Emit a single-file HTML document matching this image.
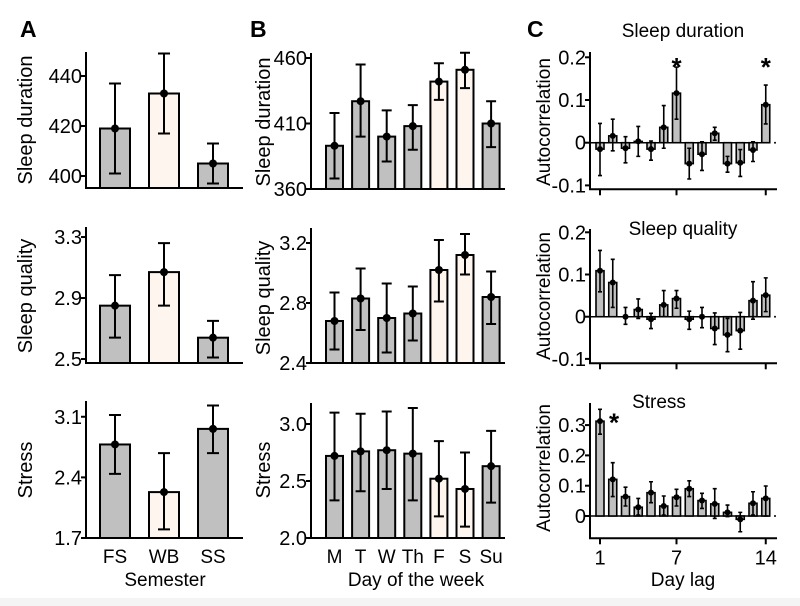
<!DOCTYPE html>
<html><head><meta charset="utf-8"><style>
html,body{margin:0;padding:0;background:#fff}
svg{display:block;font-family:"Liberation Sans",Arial,sans-serif}
</style></head><body>
<svg id="c" width="800" height="606" viewBox="0 0 800 606" xmlns="http://www.w3.org/2000/svg">
<rect x="0" y="598" width="800" height="8" fill="#f4f4f4"/>
</svg>
<script>
// Panel A data
const semesters = ["FS","WB","SS"];
const semDurMean = [419, 433, 405];
const semDurLo = [401, 417, 397];
const semDurHi = [437, 449, 413];
const semQualMean = [2.85, 3.07, 2.64];
const semQualLo = [2.64, 2.85, 2.51];
const semQualHi = [3.05, 3.26, 2.75];
const semStressMean = [2.78, 2.23, 2.96];
const semStressLo = [2.44, 1.80, 2.68];
const semStressHi = [3.12, 2.68, 3.23];
const semLight = [false, true, false];
// Panel B data
const days = ["M","T","W","Th","F","S","Su"];
const dayDurMean = [393, 427, 400, 408, 442, 451, 410];
const dayDurLo = [368, 400, 381, 390, 428, 437, 392];
const dayDurHi = [418, 455, 420, 424, 456, 464, 427];
const dayQualMean = [2.68, 2.83, 2.70, 2.73, 3.02, 3.12, 2.84];
const dayQualLo = [2.49, 2.62, 2.47, 2.55, 2.81, 2.99, 2.66];
const dayQualHi = [2.87, 3.03, 2.93, 2.91, 3.22, 3.26, 3.01];
const dayStressMean = [2.72, 2.76, 2.77, 2.74, 2.52, 2.43, 2.63];
const dayStressLo = [2.33, 2.41, 2.43, 2.33, 2.19, 2.10, 2.31];
const dayStressHi = [3.10, 3.09, 3.11, 3.14, 2.85, 2.75, 2.94];
const dayLight = [false,false,false,false,true,true,false];
// Panel C data (lags 1..14)
const lags = [1,2,3,4,5,6,7,8,9,10,11,12,13,14];
const lagTicks = [1,7,14];
const acDur = [-0.015,0.016,-0.013,0.003,-0.015,0.036,0.116,-0.049,-0.027,0.022,-0.049,-0.047,-0.017,0.089];
const acDurHi = [0.045,0.055,0.014,0.038,0.004,0.087,0.177,-0.013,0.002,0.036,-0.032,-0.016,0.002,0.135];
const acDurLo = [-0.077,-0.019,-0.047,-0.032,-0.041,-0.013,0.055,-0.085,-0.065,0.006,-0.069,-0.079,-0.044,0.044];
const acQual = [0.109,0.081,0,0.017,-0.006,0.028,0.043,-0.006,0,-0.028,-0.043,-0.033,0.038,0.051];
const acQualHi = [0.157,0.136,0.022,0.042,0.008,0.062,0.062,0.013,0.022,0.009,-0.004,0.010,0.083,0.092];
const acQualLo = [0.059,0.022,-0.018,-0.004,-0.028,0,0.020,-0.030,-0.026,-0.066,-0.083,-0.077,-0.006,0.012];
const acStress = [0.313,0.121,0.064,0.029,0.077,0.033,0.062,0.090,0.051,0.040,0.012,-0.011,0.042,0.058];
const acStressHi = [0.352,0.176,0.095,0.058,0.113,0.066,0.088,0.116,0.075,0.090,0.036,0.012,0.080,0.099];
const acStressLo = [0.27,0.064,0.033,0.003,0.044,0.003,0.033,0.064,0.025,-0.008,-0.002,-0.052,0.003,0];
const sigDur = [7,14];
const sigQual = [];
const sigStress = [1];

const svg = document.getElementById('c');
const NS = 'http://www.w3.org/2000/svg';
function mk(tag, attrs, parent){
  const e = document.createElementNS(NS, tag);
  for (const k in attrs) e.setAttribute(k, attrs[k]);
  (parent||svg).appendChild(e);
  return e;
}
function txt(s, x, y, size, opts, parent){
  const t = mk('text', {x:x, y:y, 'font-size':size, fill:'#000'}, parent);
  if (opts) for (const k in opts) t.setAttribute(k, opts[k]);
  t.textContent = s;
  return t;
}

function barPanel(name, cfg, cats, mean, lo, hi, light){
  const g = mk('g', {});
  
  
  const y = v => cfg.y0 - (v - cfg.v0) * cfg.ppu;
  const ax = mk('path', {d:`M${cfg.axX},${cfg.top} V${cfg.y0} H${cfg.axEnd}`, stroke:'#000','stroke-width':2, fill:'none'}, g);
  
  
  cfg.ticks.forEach((tv, i) => {
    const ty = y(tv);
    mk('line', {x1:cfg.axX-5, x2:cfg.axX, y1:ty, y2:ty, stroke:'#000','stroke-width':2}, g);
    const t = txt(cfg.tickLabels[i], cfg.axX-4, ty+7, 20, {'text-anchor':'end'}, g);
    
    
  });
  cats.forEach((c, i) => {
    const cx = cfg.x0 + i * cfg.step;
    const top = y(mean[i]);
    const r = mk('rect', {x:cx-cfg.bw/2, y:top, width:cfg.bw, height:cfg.y0-top, fill: light[i] ? '#fdf5ee' : '#c0c0c0', stroke:'#000','stroke-width':2}, g);
    
    
    const eb = mk('path', {d:`M${cx},${y(lo[i])} V${y(hi[i])} M${cx-cfg.cap},${y(lo[i])} H${cx+cfg.cap} M${cx-cfg.cap},${y(hi[i])} H${cx+cfg.cap}`, stroke:'#000','stroke-width':2, fill:'none'}, g);
    
    
    mk('circle', {cx:cx, cy:top, r:4, fill:'#000'}, g);
    if (cfg.xlabels) {
      const t = txt(c, cx, cfg.y0+25, 19, {'text-anchor':'middle'}, g);
      
      
    }
  });
  const tl = txt(cfg.title, 0, 0, 20, {'text-anchor':'middle', transform:`translate(${cfg.titleX},${cfg.titleY}) rotate(-90)`}, g);
  
  
}

const A = {axX:86, axEnd:243, x0:115, step:49, bw:30, cap:6};
barPanel('panel-a-sleep-duration', Object.assign({}, A, {top:52, y0:188, v0:395.2, ppu:2.5, ticks:[400,420,440], tickLabels:['400','420','440'], title:'Sleep duration', titleX:32, titleY:120}), semesters, semDurMean, semDurLo, semDurHi, semLight);
barPanel('panel-a-sleep-quality', Object.assign({}, A, {top:227, y0:363, v0:2.474, ppu:152.5, ticks:[2.5,2.9,3.3], tickLabels:['2.5','2.9','3.3'], title:'Sleep quality', titleX:32, titleY:296}), semesters, semQualMean, semQualLo, semQualHi, semLight);
barPanel('panel-a-stress', Object.assign({}, A, {top:401, y0:538, v0:1.7, ppu:86.6, ticks:[1.7,2.4,3.1], tickLabels:['1.7','2.4','3.1'], title:'Stress', titleX:32, titleY:470, xlabels:true}), semesters, semStressMean, semStressLo, semStressHi, semLight);

const B = {axX:311, axEnd:505, x0:334.5, step:26.1, bw:17, cap:5};
barPanel('panel-b-sleep-duration', Object.assign({}, B, {top:53, y0:189, v0:360, ppu:1.31, ticks:[360,410,460], tickLabels:['360','410','460'], title:'Sleep duration', titleX:270, titleY:122}), days, dayDurMean, dayDurLo, dayDurHi, dayLight);
barPanel('panel-b-sleep-quality', Object.assign({}, B, {top:228, y0:363, v0:2.4, ppu:150, ticks:[2.4,2.8,3.2], tickLabels:['2.4','2.8','3.2'], title:'Sleep quality', titleX:270, titleY:298}), days, dayQualMean, dayQualLo, dayQualHi, dayLight);
barPanel('panel-b-stress', Object.assign({}, B, {top:403, y0:538, v0:2.0, ppu:114, ticks:[2.0,2.5,3.0], tickLabels:['2.0','2.5','3.0'], title:'Stress', titleX:270, titleY:470, xlabels:true}), days, dayStressMean, dayStressLo, dayStressHi, dayLight);

function acPanel(name, cfg, vals, lo, hi, sig){
  const g = mk('g', {});
  
  
  const y = v => cfg.zero - v * cfg.ppu;
  const x = l => 600 + (l - 1) * 12.75;
  const ax = mk('path', {d:`M590,${cfg.top} V${cfg.base} H777`, stroke:'#000','stroke-width':2, fill:'none'}, g);
  
  
  mk('line', {x1:590, x2:770, y1:cfg.zero, y2:cfg.zero, stroke:'#000','stroke-width':1.5}, g);
  mk('circle', {cx:775, cy:cfg.zero, r:1, fill:'#000'}, g);
  cfg.ticks.forEach((tv, i) => {
    const ty = y(tv);
    mk('line', {x1:585, x2:590, y1:ty, y2:ty, stroke:'#000','stroke-width':2}, g);
    const t = txt(cfg.tickLabels[i], 586, ty+7, 20, {'text-anchor':'end'}, g);
    
    
  });
  lagTicks.forEach(l => {
    mk('line', {x1:x(l), x2:x(l), y1:cfg.base, y2:cfg.base+6, stroke:'#000','stroke-width':2}, g);
    if (cfg.xlabels) {
      const t = txt(String(l), x(l), cfg.base+26, 20, {'text-anchor':'middle'}, g);
      
      
    }
  });
  lags.forEach((l, i) => {
    const cx = x(l), v = vals[i];
    const r = mk('rect', {x:cx-4, y:Math.min(y(v), cfg.zero), width:8, height:Math.abs(y(v)-cfg.zero), fill:'#c0c0c0', stroke:'#000','stroke-width':1.6}, g);
    
    
    const eb = mk('path', {d:`M${cx},${y(lo[i])} V${y(hi[i])} M${cx-2},${y(lo[i])} H${cx+2} M${cx-2},${y(hi[i])} H${cx+2}`, stroke:'#000','stroke-width':1.6, fill:'none'}, g);
    
    
    mk('circle', {cx:cx, cy:y(v), r:3, fill:'#000'}, g);
  });
  sig.forEach(l => {
    const t = txt('*', l === 1 ? x(l)+14 : x(l), l === 1 ? y(hi[0])+22 : cfg.top+24, 26, {'text-anchor':'middle','font-weight':'bold'}, g);
    
    
  });
  const tt = txt(cfg.title, cfg.titleX, cfg.titleY, 19, {'text-anchor':'middle'}, g);
  
  
  const yt = txt('Autocorrelation', 0, 0, 19, {'text-anchor':'middle', transform:`translate(${550},${cfg.ytY}) rotate(-90)`}, g);
  
  
}
acPanel('panel-c-sleep-duration', {zero:142.7, ppu:427, top:52, base:189.3, ticks:[-0.1,0,0.1,0.2], tickLabels:['-0.1','0','0.1','0.2'], title:'Sleep duration', titleX:683, titleY:37, ytY:122}, acDur, acDurLo, acDurHi, sigDur);
acPanel('panel-c-sleep-quality', {zero:316.7, ppu:422, top:229, base:363.3, ticks:[-0.1,0,0.1,0.2], tickLabels:['-0.1','0','0.1','0.2'], title:'Sleep quality', titleX:683, titleY:235, ytY:296}, acQual, acQualLo, acQualHi, sigQual);
acPanel('panel-c-stress', {zero:516, ppu:303, top:403, base:538.3, ticks:[0,0.1,0.2,0.3], tickLabels:['0','0.1','0.2','0.3'], title:'Stress', titleX:659, titleY:408, ytY:468, xlabels:true}, acStress, acStressLo, acStressHi, sigStress);

[['A',20,'panel-label-a'],['B',250,'panel-label-b'],['C',527,'panel-label-c']].forEach(p => {
  const t = txt(p[0], p[1], 37, 23, {'font-weight':'bold'});
  
  
});
const xs1 = txt('Semester', 165, 586, 19, {'text-anchor':'middle'});


const xs2 = txt('Day of the week', 416, 586, 19, {'text-anchor':'middle'});


const xs3 = txt('Day lag', 683, 586, 19, {'text-anchor':'middle'});


</script>
</body></html>
